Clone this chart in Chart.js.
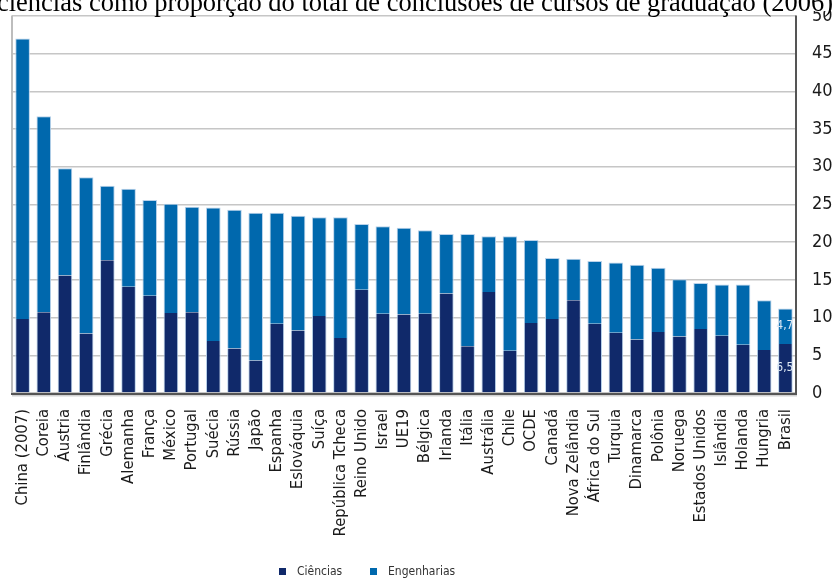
<!DOCTYPE html>
<html lang="pt-BR">
<head>
<meta charset="utf-8">
<title>Conclusões em ciências e engenharias</title>
<script src="https://cdn.jsdelivr.net/npm/chart.js@4.4.1/dist/chart.umd.min.js"></script>
<style>
  html, body { margin: 0; padding: 0; background: #fff; }
  #wrap { position: relative; width: 838px; height: 578px; overflow: hidden; }
  #legenda { position: absolute; top: 564px; left: 279px; font: 12px 'Liberation Sans Narrow', 'DejaVu Sans Condensed', 'Liberation Sans', sans-serif; color: #333; white-space: nowrap; }
  #legenda span.item { display: inline-block; width: 91px; }
  #legenda span.cx { display: inline-block; width: 7px; height: 7px; margin-right: 11px; vertical-align: 0px; }
</style>
</head>
<body>
<div id="wrap">
  <canvas id="graficoConclusoes"></canvas>
  <div id="legenda"></div>
</div>
<script>
// Países, ordenados pelo total (ciências + engenharias)
var paises = [
    'China (2007)', 'Coreia', 'Áustria', 'Finlândia', 'Grécia', 'Alemanha', 'França',
    'México', 'Portugal', 'Suécia', 'Rússia', 'Japão', 'Espanha', 'Eslováquia', 'Suíça',
    'República Tcheca', 'Reino Unido', 'Israel', 'UE19', 'Bélgica', 'Irlanda', 'Itália',
    'Austrália', 'Chile', 'OCDE', 'Canadá', 'Nova Zelândia', 'África do Sul', 'Turquia',
    'Dinamarca', 'Polônia', 'Noruega', 'Estados Unidos', 'Islândia', 'Holanda', 'Hungria',
    'Brasil'
];
// % de conclusões em ciências
var ciencias = [
    9.8, 10.7, 15.6, 7.9, 17.6, 14.1, 12.9, 10.6, 10.7, 6.9, 5.9, 4.3, 9.2, 8.3, 10.2,
    7.3, 13.7, 10.5, 10.4, 10.5, 13.2, 6.2, 13.4, 5.6, 9.3, 9.8, 12.3, 9.2, 8.0,
    7.1, 8.1, 7.5, 8.5, 7.6, 6.4, 5.7, 6.5
];
// % de conclusões em engenharias
var engenharias = [
    37.2, 26.0, 14.2, 20.7, 9.9, 13.0, 12.7, 14.5, 14.0, 17.7, 18.4, 19.6, 14.7, 15.2, 13.1,
    16.0, 8.7, 11.6, 11.5, 11.1, 7.9, 14.9, 7.4, 15.2, 11.0, 8.1, 5.5, 8.3, 9.3,
    9.9, 8.5, 7.6, 6.1, 6.8, 8.0, 6.6, 4.7
];
var nomesSeries = ['Ciências', 'Engenharias'];
var coresSeries = ['#10296a', '#0068ad'];
var escalaY = { min: 0, max: 50, passo: 5 };
// Barras que recebem o valor escrito
var destaque = ['Brasil'];

var titulo = 'ciências como proporção do total de conclusões de cursos de graduação (2006)';
var fonte = "'Liberation Sans Narrow', 'DejaVu Sans Condensed', 'Liberation Sans', sans-serif";

// Moldura da área do gráfico: esquerda clara, direita e base escuras
var moldura = {
    id: 'moldura',
    afterDraw: function(chart) {
        var ctx = chart.ctx, a = chart.chartArea;
        ctx.save();
        ctx.lineWidth = 2;
        ctx.strokeStyle = '#bdbdbd';
        ctx.beginPath();
        ctx.moveTo(a.left, a.top - 0.5);
        ctx.lineTo(a.left, a.bottom);
        ctx.stroke();
        ctx.strokeStyle = '#d2d2d2';
        ctx.beginPath();
        ctx.moveTo(a.left, a.bottom + 2.5);
        ctx.lineTo(a.right + 1, a.bottom + 2.5);
        ctx.stroke();
        ctx.strokeStyle = '#555';
        ctx.beginPath();
        ctx.moveTo(a.right, a.top - 0.5);
        ctx.lineTo(a.right, a.bottom + 1);
        ctx.lineTo(a.left - 1, a.bottom + 1);
        ctx.stroke();
        ctx.restore();
    }
};

// Valores escritos dentro das barras em destaque
var rotulos = {
    id: 'rotulos',
    afterDatasetsDraw: function(chart) {
        var ctx = chart.ctx;
        ctx.save();
        ctx.font = '12px ' + fonte;
        ctx.fillStyle = '#dce8f4';
        ctx.textAlign = 'center';
        ctx.textBaseline = 'middle';
        chart.data.datasets.forEach(function(ds, d) {
            var meta = chart.getDatasetMeta(d);
            paises.forEach(function(p, i) {
                if (destaque.indexOf(p) < 0) return;
                var el = meta.data[i];
                var txt = ds.data[i].toFixed(1).replace('.', ',');
                ctx.fillText(txt, el.x - 0.5, (el.y + el.base) / 2);
            });
        });
        ctx.restore();
    }
};

// Linha de título no topo, cortada pela borda
var tituloTopo = {
    id: 'tituloTopo',
    afterDraw: function(chart) {
        var ctx = chart.ctx;
        ctx.save();
        ctx.fillStyle = '#fff';
        ctx.fillRect(0, 0, chart.width, 11);
        ctx.fillStyle = '#000';
        ctx.font = '27px "Liberation Serif", "DejaVu Serif", serif';
        ctx.textBaseline = 'alphabetic';
        ctx.textAlign = 'left';
        ctx.fillText(titulo, -3, 10.5, 836);
        ctx.restore();
    }
};

var datasets = [ciencias, engenharias].map(function(valores, k) {
    return {
        label: nomesSeries[k],
        data: valores,
        backgroundColor: coresSeries[k],
        borderColor: '#b9d2ea',
        borderWidth: k === 0 ? { top: 0, left: 1, right: 1, bottom: 0 } : { top: 1, left: 1, right: 1, bottom: 0 },
        borderSkipped: false,
        barPercentage: 1,
        categoryPercentage: 0.69
    };
});

var grafico = new Chart(document.getElementById('graficoConclusoes'), {
    type: 'bar',
    data: { labels: paises, datasets: datasets },
    options: {
        responsive: true,
        maintainAspectRatio: false,
        animation: false,
        layout: { padding: { left: 12, top: 16, right: 0, bottom: 0 } },
        plugins: {
            legend: { display: false },
            tooltip: { enabled: false }
        },
        scales: {
            x: {
                stacked: true,
                grid: { display: false, drawTicks: false },
                border: { display: false },
                ticks: {
                    autoSkip: false,
                    minRotation: 90,
                    maxRotation: 90,
                    padding: 16,
                    color: '#1a1a1a',
                    font: { family: fonte, size: 16.5 }
                },
                afterFit: function(scale) {
                    scale.height = 185;
                    scale.paddingLeft = 0;
                    scale.paddingRight = 0;
                }
            },
            y: {
                stacked: true,
                position: 'right',
                min: escalaY.min,
                max: escalaY.max,
                grid: { color: '#c6c6c6', lineWidth: 1.5, drawTicks: false },
                border: { display: false },
                ticks: {
                    stepSize: escalaY.passo,
                    padding: 16,
                    color: '#1a1a1a',
                    font: { family: fonte, size: 18 }
                },
                afterFit: function(scale) {
                    scale.width = 42;
                    scale.paddingTop = 0;
                    scale.paddingBottom = 0;
                }
            }
        }
    },
    plugins: [moldura, rotulos, tituloTopo]
});

// Legenda em HTML, a partir das séries
document.getElementById('legenda').innerHTML = nomesSeries.map(function(n, k) {
    return '<span class="item"><span class="cx" style="background:' + coresSeries[k] + '"></span>' + n + '</span>';
}).join('');
</script>
</body>
</html>
